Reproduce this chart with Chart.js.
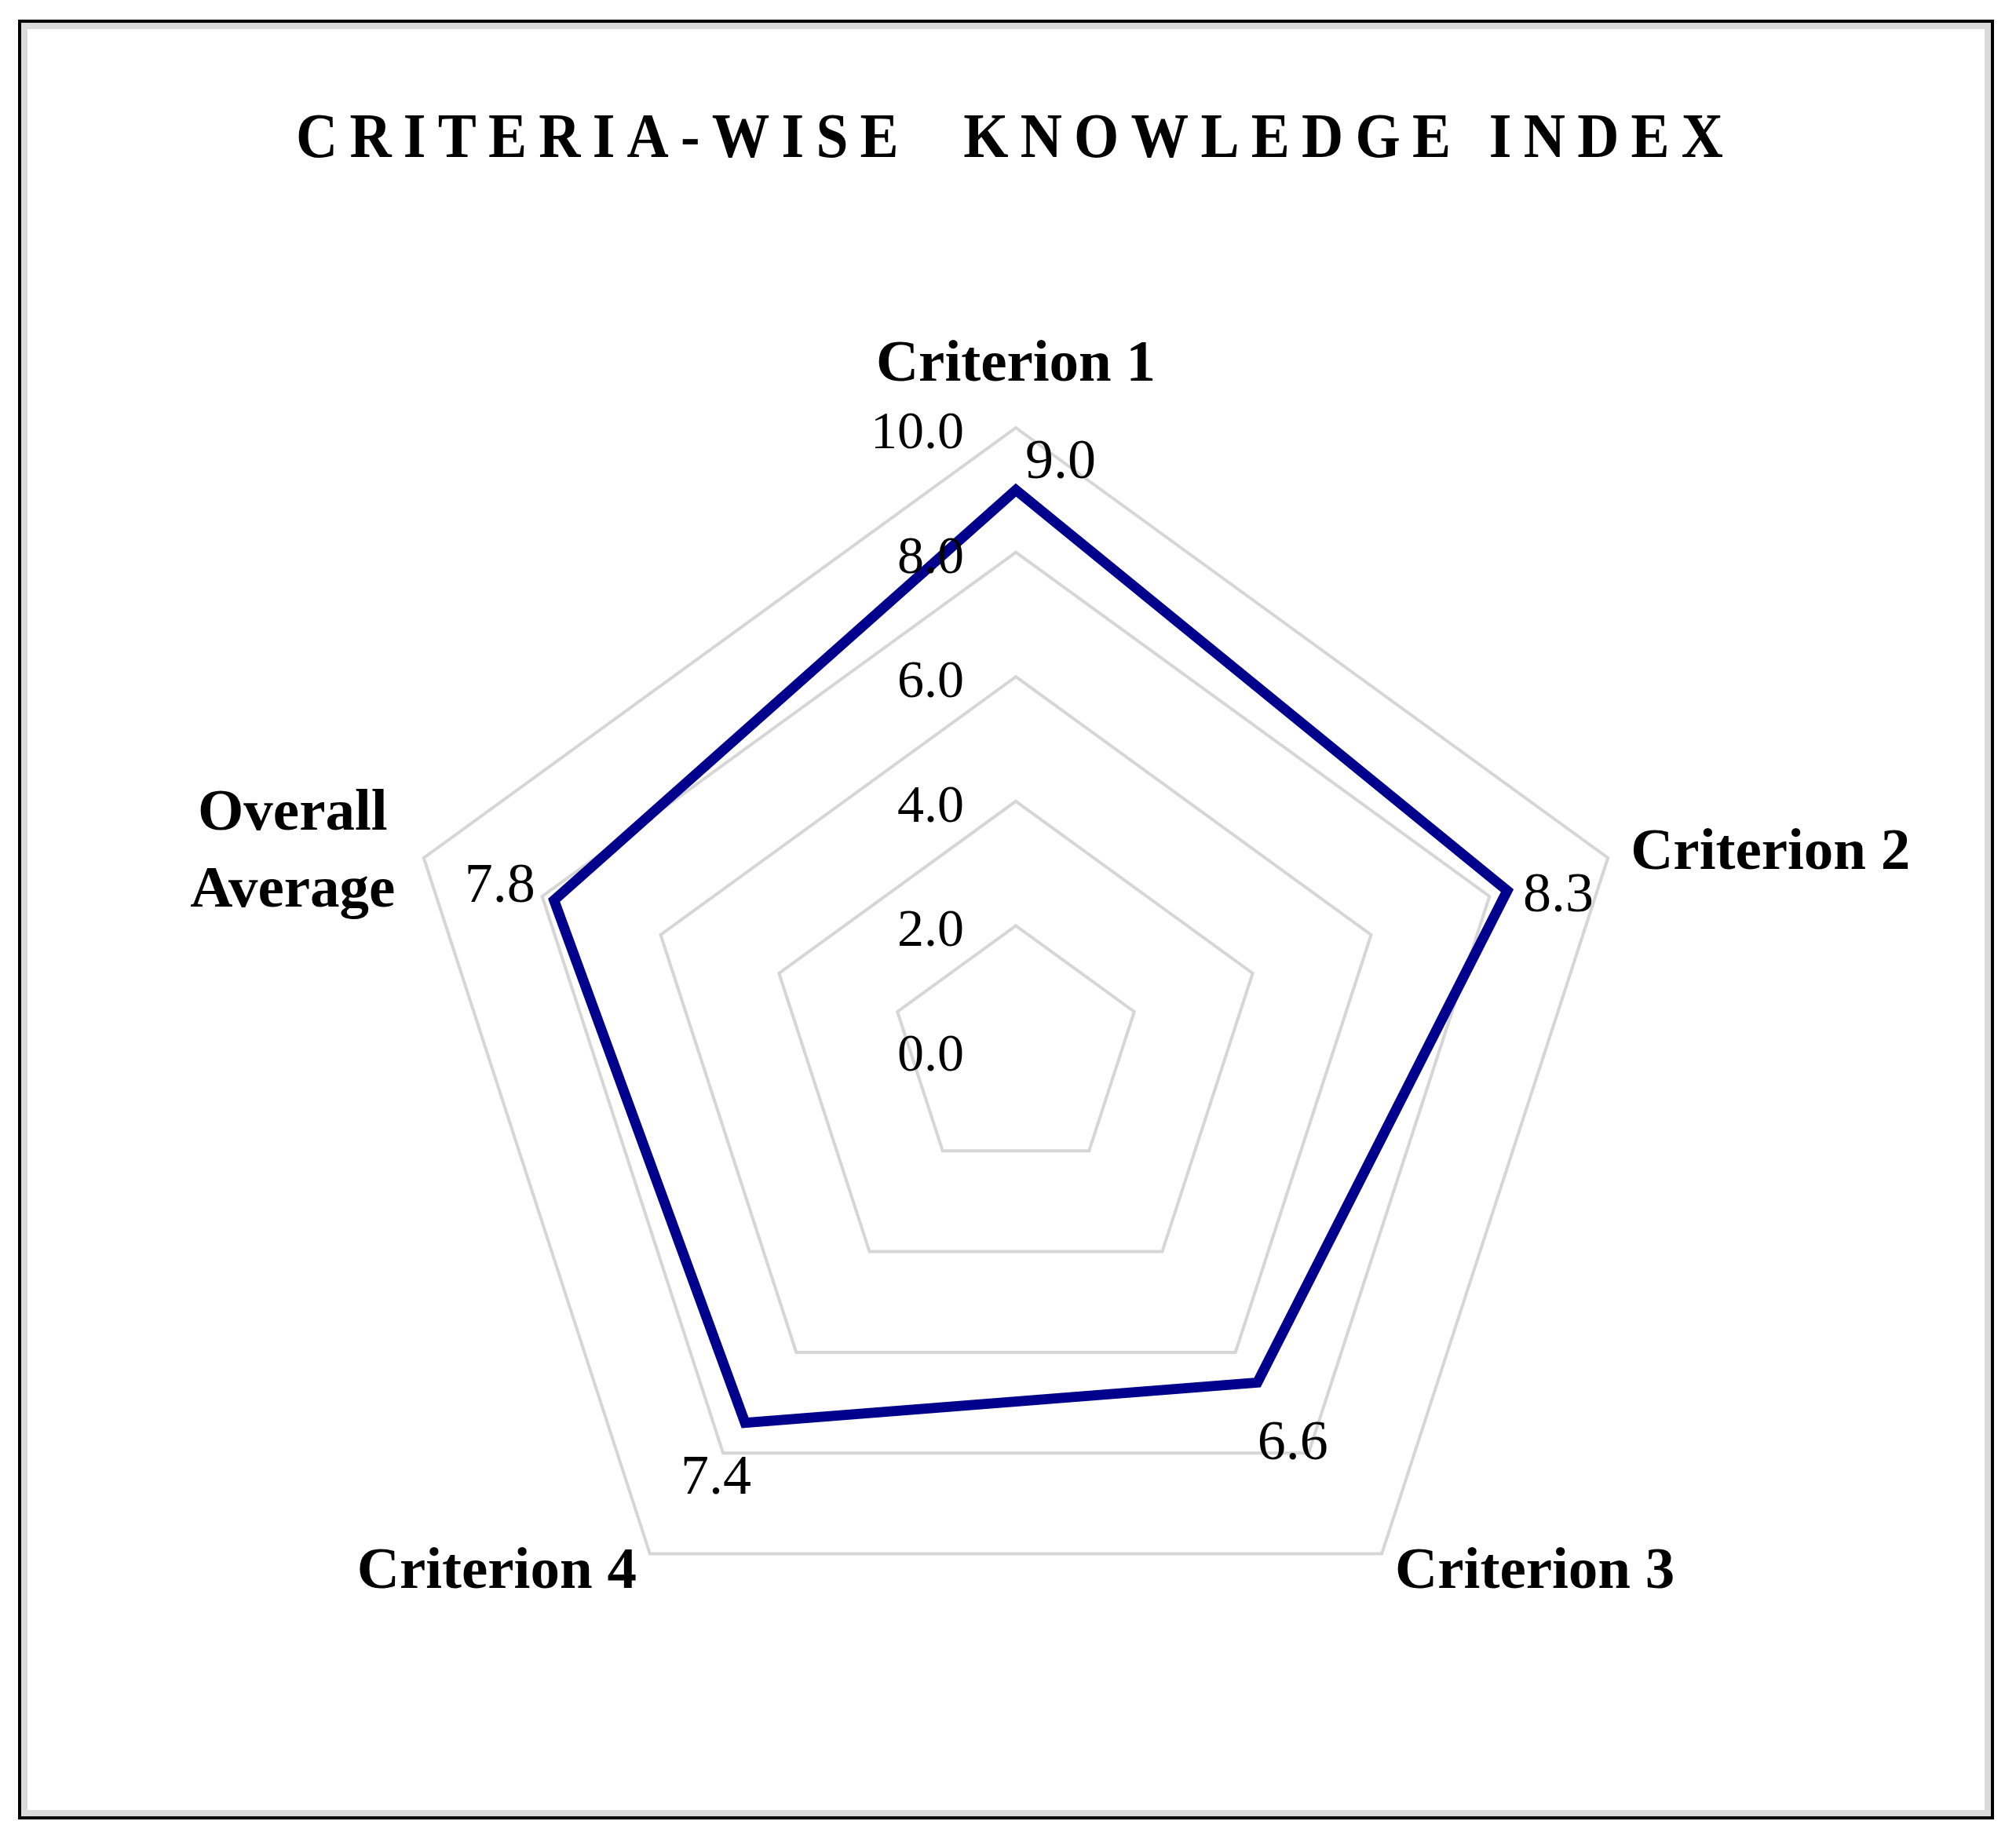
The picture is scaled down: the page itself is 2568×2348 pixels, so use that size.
<!DOCTYPE html>
<html>
<head>
<meta charset="utf-8">
<title>Criteria-wise Knowledge Index</title>
<script src="https://cdn.jsdelivr.net/npm/chart.js@4.4.1/dist/chart.umd.min.js"></script>
<style>
  html, body { margin: 0; padding: 0; background: #fff; }
  #wrap { position: relative; width: 2568px; height: 2348px; }
</style>
</head>
<body>
<div id="wrap"><canvas id="radarChart"></canvas></div>
<script>
// Data
const titleText = "CRITERIA-WISE  KNOWLEDGE INDEX";
const categories = ["Criterion 1", "Criterion 2", "Criterion 3", "Criterion 4", ["Overall", "Average"]];
const scores = [9.0, 8.3, 6.6, 7.4, 7.8];
const tickValues = [0, 2, 4, 6, 8, 10];

const serif = '"Liberation Serif", "DejaVu Serif", serif';
const lineColor = "#00008C";
const gridColor = "#D6D6D6";

// label placement relative to the outer ring vertex / data point
const pointLabelStyle = [
  { dx: 0, dy: -60, align: "center" },
  { dx: 29, dy: 14, align: "left" },
  { dx: 17, dy: 43, align: "left" },
  { dx: -17, dy: 43, align: "right" },
  { dx: -167, dy: -36, align: "center", lineGap: 98 },
];
const valueLabelOffset = [
  { dx: 57, dy: -15 },
  { dx: 65, dy: 26 },
  { dx: 45, dy: 98 },
  { dx: -37, dy: 90 },
  { dx: -69, dy: 2 },
];

// Frame + title + labels
const decorPlugin = {
  id: "decor",
  beforeDraw(chart) {
    const ctx = chart.ctx;
    ctx.save();
    ctx.strokeStyle = "#000";
    ctx.lineWidth = 4;
    ctx.strokeRect(25, 27, 2513, 2289);
    ctx.strokeStyle = "#DADADA";
    ctx.lineWidth = 8;
    ctx.strokeRect(31, 33, 2501, 2277);
    ctx.restore();
  },
  afterDraw(chart) {
    const ctx = chart.ctx;
    const scale = chart.scales.r;

    // title: slightly condensed, wide letter spacing
    ctx.save();
    ctx.fillStyle = "#000";
    ctx.font = "bold 80px " + serif;
    const sx = 0.92;
    const target = 1818;
    const w0 = ctx.measureText(titleText).width;
    const ls = (target / sx - w0) / (titleText.length - 1);
    ctx.letterSpacing = ls + "px";
    ctx.textAlign = "left";
    ctx.textBaseline = "alphabetic";
    ctx.translate(377, 200);
    ctx.scale(sx, 1);
    ctx.fillText(titleText, 0, 0);
    ctx.restore();

    // category labels
    ctx.save();
    ctx.fillStyle = "#000";
    ctx.font = "bold 75px " + serif;
    ctx.textBaseline = "alphabetic";
    chart.data.labels.forEach((lab, i) => {
      const p = scale.getPointPosition(i, scale.drawingArea);
      const st = pointLabelStyle[i];
      ctx.textAlign = st.align;
      const lines = Array.isArray(lab) ? lab : [lab];
      lines.forEach((line, k) => {
        ctx.fillText(line, p.x + st.dx, p.y + st.dy + k * (st.lineGap || 0));
      });
    });
    ctx.restore();

    // tick labels, to the left of the vertical axis
    ctx.save();
    ctx.fillStyle = "#000";
    ctx.font = "68px " + serif;
    ctx.textAlign = "right";
    ctx.textBaseline = "alphabetic";
    tickValues.forEach((v) => {
      const y = scale.yCenter - scale.getDistanceFromCenterForValue(v);
      ctx.fillText(v.toFixed(1), scale.xCenter - 66, y + 26);
    });
    ctx.restore();

    // value labels
    ctx.save();
    ctx.fillStyle = "#000";
    ctx.font = "72px " + serif;
    ctx.textAlign = "center";
    ctx.textBaseline = "alphabetic";
    const meta = chart.getDatasetMeta(0);
    meta.data.forEach((pt, i) => {
      const o = valueLabelOffset[i];
      ctx.fillText(scores[i].toFixed(1), pt.x + o.dx, pt.y + o.dy);
    });
    ctx.restore();
  },
};

new Chart(document.getElementById("radarChart"), {
  type: "radar",
  data: {
    labels: categories,
    datasets: [
      {
        label: "Knowledge index",
        data: scores,
        borderColor: lineColor,
        backgroundColor: "rgba(0,0,0,0)",
        borderWidth: 13,
        borderJoinStyle: "miter",
        pointRadius: 0,
        fill: false,
        tension: 0,
      },
    ],
  },
  options: {
    responsive: true,
    maintainAspectRatio: false,
    animation: false,
    layout: {
      padding: { left: 501, right: 481, top: 545, bottom: 217 },
    },
    plugins: {
      legend: { display: false },
      title: { display: false },
      tooltip: { enabled: false },
    },
    scales: {
      r: {
        min: 0,
        max: 10,
        ticks: { stepSize: 2, display: false },
        grid: { color: gridColor, lineWidth: 4, circular: false },
        angleLines: { display: false },
        pointLabels: { display: false },
      },
    },
  },
  plugins: [decorPlugin],
});
</script>
</body>
</html>
